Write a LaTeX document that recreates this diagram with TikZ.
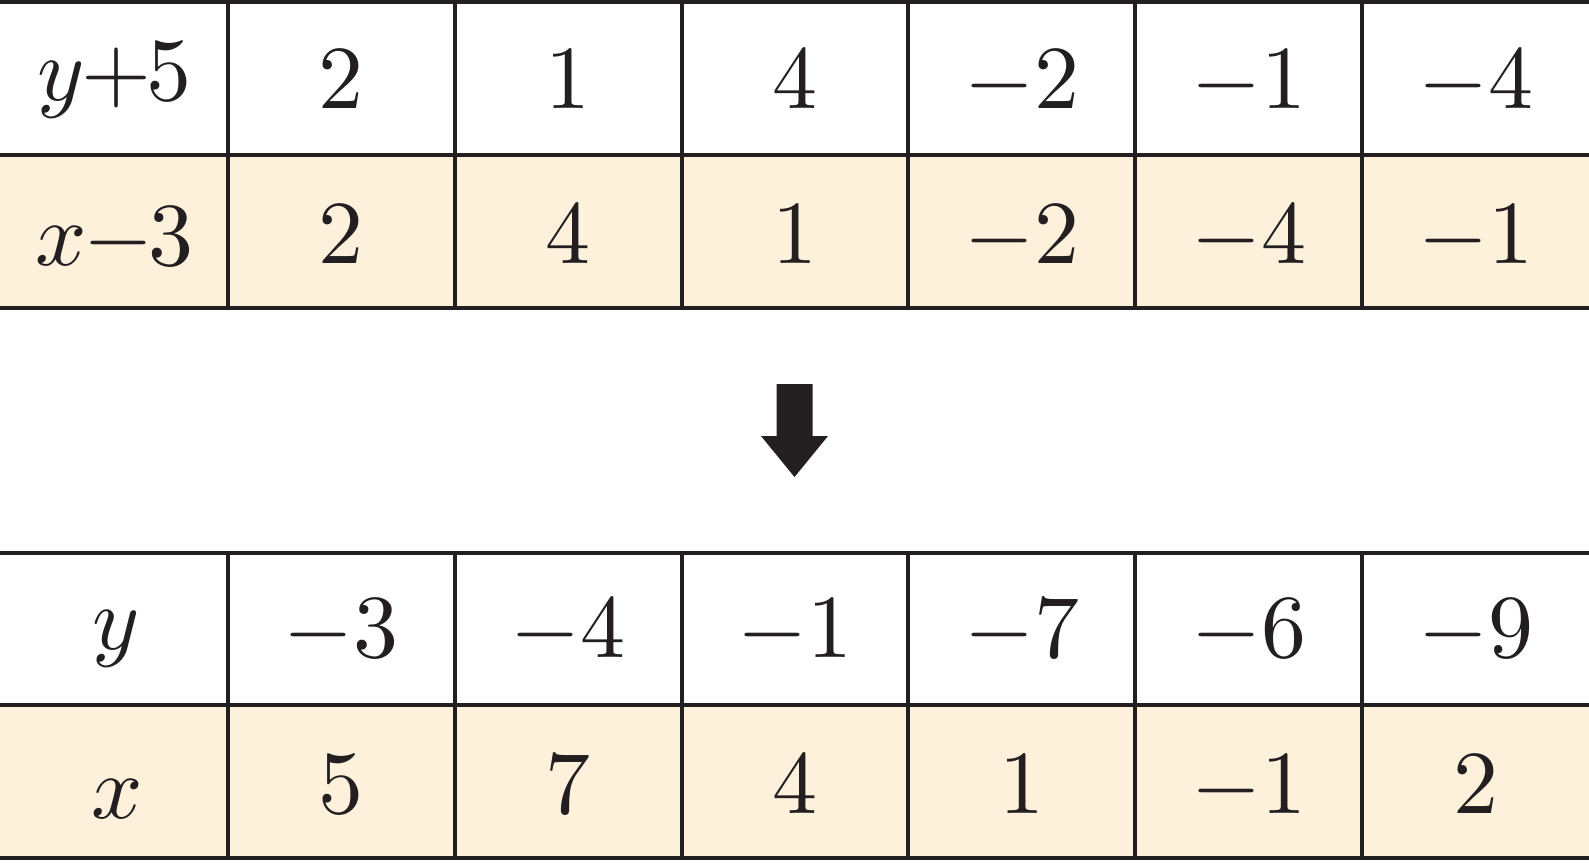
\documentclass[tikz,border=0pt]{standalone}
\DeclareFontShape{OT1}{cmr}{m}{n}{<->cmr10}{}
\DeclareFontShape{OML}{cmm}{m}{it}{<->cmmi10}{}
\DeclareFontShape{OMS}{cmsy}{m}{n}{<->cmsy10}{}
\definecolor{cream}{RGB}{253,241,220}
\definecolor{ink}{RGB}{35,31,32}
\begin{document}
\begin{tikzpicture}[x=0.5pt,y=-0.5pt,
  gridline/.style={line width=2.2pt, draw=ink},
  cell/.style={anchor=base, inner sep=0pt, font=\fontsize{45}{54}\selectfont, text=ink},
  arrowshape/.style={fill=ink}
]
\useasboundingbox (0,0) rectangle (1589,862);
% shaded rows
\fill[cream] (0,155) rectangle (1589,308);
\fill[cream] (0,705) rectangle (1589,858);
% table 1 grid
\foreach \y in {2,155,308} \draw[gridline] (0,\y) -- (1589,\y);
\foreach \x in {228,455,682,908,1135,1362} \draw[gridline] (\x,2) -- (\x,308);
% table 2 grid
\foreach \y in {553,705,858} \draw[gridline] (0,\y) -- (1589,\y);
\foreach \x in {228,455,682,908,1135,1362} \draw[gridline] (\x,553) -- (\x,858);
% labels
\node[cell] (ta0) at (114.5,100) {$y\mkern-0.5mu{+}\mkern-1mu5$};
\node[cell] (tb0) at (114.5,265) {$x\mkern-0.5mu{-}\mkern-1mu3$};
\node[cell] (tc0) at (116,649) {$y$};
\node[cell] (td0) at (117,818) {$x$};
% values
\foreach \v [count=\i] in {2,1,4,-2,-1,-4}
  \node[cell] (ta\i) at ({227*\i+113.5},108) {$\v$};
\foreach \v [count=\i] in {2,4,1,-2,-4,-1}
  \node[cell] (tb\i) at ({227*\i+113.5},263) {$\v$};
\foreach \v [count=\i] in {-3,-4,-1,-7,-6,-9}
  \node[cell] (tc\i) at ({227*\i+113.5},657) {$\v$};
\foreach \v [count=\i] in {5,7,4,1,-1,2}
  \node[cell] (td\i) at ({227*\i+113.5},813) {$\v$};
% arrow
\fill[arrowshape] (776.5,384) -- (812.5,384) -- (812.5,436) -- (828,436)
  -- (794.5,477) -- (761,436) -- (776.5,436) -- cycle;
\end{tikzpicture}
\end{document}
